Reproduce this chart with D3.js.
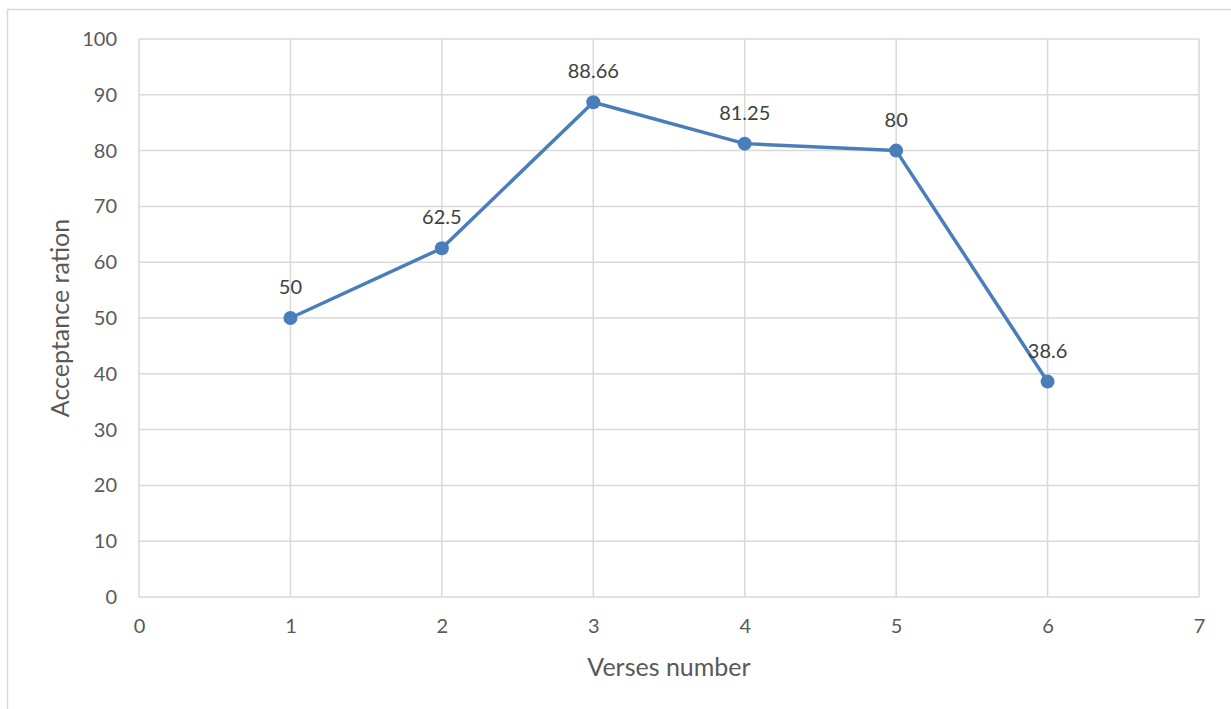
<!DOCTYPE html>
<html>
<head>
<meta charset="utf-8">
<script src="https://cdn.jsdelivr.net/npm/d3@7"></script>
<style>
  html, body { margin: 0; padding: 0; background: #fff; }
  svg { display: block; font-family: Lato, "Open Sans", sans-serif; }
</style>
</head>
<body>
<svg id="chart" width="1231" height="709"></svg>
<script>
// Acceptance ratio per verse
const verses = [1, 2, 3, 4, 5, 6];
const acceptance = [50, 62.5, 88.66, 81.25, 80, 38.6];
const xTicks = [0, 1, 2, 3, 4, 5, 6, 7];
const yTicks = [0, 10, 20, 30, 40, 50, 60, 70, 80, 90, 100];
const xTitle = "Verses number";
const yTitle = "Acceptance ration";

const svg = d3.select("#chart");
const W = 1231, H = 709;
const plot = { left: 139, top: 39, right: 1199, bottom: 597 };

// chart frame
svg.append("rect")
  .attr("x", 7.5).attr("y", 9.5)
  .attr("width", W + 10).attr("height", H + 10)
  .attr("fill", "none").attr("stroke", "#d9d9d9").attr("stroke-width", 1.5);

const x = d3.scaleLinear().domain([0, 7]).range([plot.left, plot.right]);
const y = d3.scaleLinear().domain([0, 100]).range([plot.bottom, plot.top]);

const grid = "#d9d9d9";
const textColor = "#595959";

// gridlines
svg.append("g").selectAll("line.h").data(yTicks).join("line")
  .attr("x1", plot.left).attr("x2", plot.right)
  .attr("y1", d => y(d)).attr("y2", d => y(d))
  .attr("stroke", grid).attr("stroke-width", 1.5);
svg.append("g").selectAll("line.v").data(xTicks).join("line")
  .attr("y1", plot.top).attr("y2", plot.bottom)
  .attr("x1", d => x(d)).attr("x2", d => x(d))
  .attr("stroke", grid).attr("stroke-width", 1.5);

// tick labels via d3 axes (no domain/tick lines)
const yAxis = svg.append("g")
  .attr("transform", `translate(${plot.left},0)`)
  .call(d3.axisLeft(y).tickValues(yTicks).tickSize(0).tickPadding(22));
yAxis.select(".domain").remove();
yAxis.selectAll("text").attr("fill", textColor).style("font-size", "20px")
  .style("font-family", "Lato, 'Open Sans', sans-serif");

const xAxis = svg.append("g")
  .attr("transform", `translate(0,${plot.bottom})`)
  .call(d3.axisBottom(x).tickValues(xTicks).tickFormat(d3.format("d")).tickSize(0).tickPadding(22));
xAxis.select(".domain").remove();
xAxis.selectAll("text").attr("fill", textColor).style("font-size", "20px")
  .style("font-family", "Lato, 'Open Sans', sans-serif");

// axis titles
svg.append("text")
  .attr("x", (plot.left + plot.right) / 2).attr("y", 676)
  .attr("text-anchor", "middle").attr("fill", textColor)
  .style("font-size", "25px").text(xTitle);
svg.append("text")
  .attr("transform", `translate(69,${(plot.top + plot.bottom) / 2}) rotate(-90)`)
  .attr("text-anchor", "middle").attr("fill", textColor)
  .style("font-size", "25px").text(yTitle);

// series
const pts = verses.map((v, i) => ({ v, a: acceptance[i] }));
const lineColor = "#4a7ebb";
svg.append("path")
  .datum(pts)
  .attr("d", d3.line().x(d => x(d.v)).y(d => y(d.a)))
  .attr("fill", "none").attr("stroke", lineColor)
  .attr("stroke-width", 3.5).attr("stroke-linejoin", "round");
svg.append("g").selectAll("circle").data(pts).join("circle")
  .attr("cx", d => x(d.v)).attr("cy", d => y(d.a)).attr("r", 7)
  .attr("fill", lineColor);

// data labels
svg.append("g").selectAll("text").data(pts).join("text")
  .attr("x", d => x(d.v)).attr("y", d => y(d.a) - 24)
  .attr("text-anchor", "middle").attr("fill", "#404040")
  .style("font-size", "20px")
  .text(d => d.a);
</script>
</body>
</html>
